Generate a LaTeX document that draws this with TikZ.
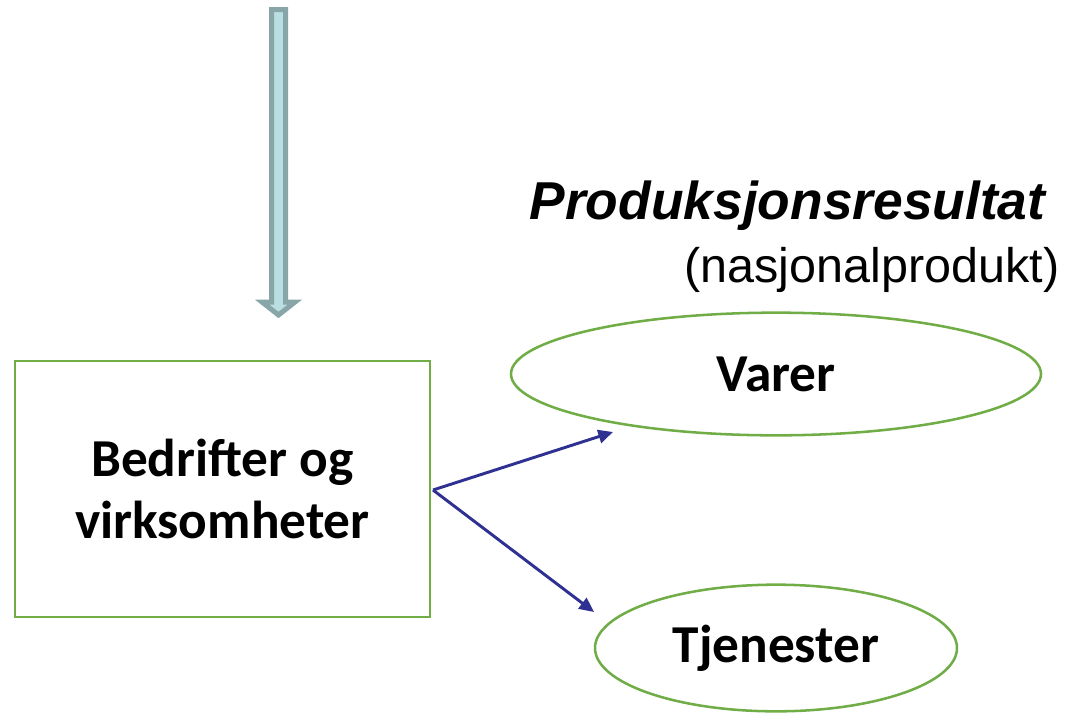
\documentclass[tikz,border=0pt]{standalone}
\usepackage{fontspec}
\setmainfont{Liberation Sans}
\newfontfamily\calibri{Carlito}
\usetikzlibrary{shapes}
\usetikzlibrary{arrows.meta}
\definecolor{boxgreen}{HTML}{70AD47}
\definecolor{flownavy}{HTML}{2E3192}
\definecolor{pipefill}{HTML}{B9DFE2}
\definecolor{pipeedge}{HTML}{88A5A7}

\begin{document}
\begin{tikzpicture}[x=0.75pt,y=-0.75pt,>={Triangle[length=11pt,width=10pt]}]
      \tikzstyle{every node}=[font=\calibri\bfseries\fontsize{40}{46}\selectfont,align=center]
      \tikzstyle{unit}=[draw=boxgreen,line width=1.9pt,inner sep=0pt]
      \tikzstyle{output}=[ellipse,draw=boxgreen,line width=1.9pt,inner sep=0pt]
      \tikzstyle{flow}=[draw=flownavy,line width=2.2pt]
      \useasboundingbox (0,0) rectangle (1070,715);
      % 
      \draw [fill=pipefill,draw=pipeedge,line width=3.75pt]
            (271.5,9.5) -- (285.5,9.5) -- (285.5,302) -- (295,302) -- (278.5,315)
            -- (262,302) -- (271.5,302) -- cycle;
      % 
      \node [unit,minimum width=311pt,minimum height=192pt] (firms) at (222.5,489)
            {Bedrifter og\\virksomheter};
      \node [output,minimum width=397.5pt,minimum height=92pt] (goods) at (776,374) {Varer};
      \node [output,minimum width=271.5pt,minimum height=95pt] (services) at (776,648) {Tjenester};
      \node [anchor=base east,font=\bfseries\itshape\fontsize{40}{48}\selectfont] (result)
            at (1050,219) {Produksjonsresultat};
      \node [anchor=base east,font=\fontsize{36.4}{43}\selectfont] (gnp)
            at (1064,282) {(nasjonalprodukt)};
      % 
      \coordinate (split) at (433,490);
      \coordinate (goodsend) at (613,432);
      \coordinate (servend) at (594,612);
      \path[->]
      (split) edge [flow] (goodsend)
              edge [flow] (servend);
\end{tikzpicture}
\end{document}
